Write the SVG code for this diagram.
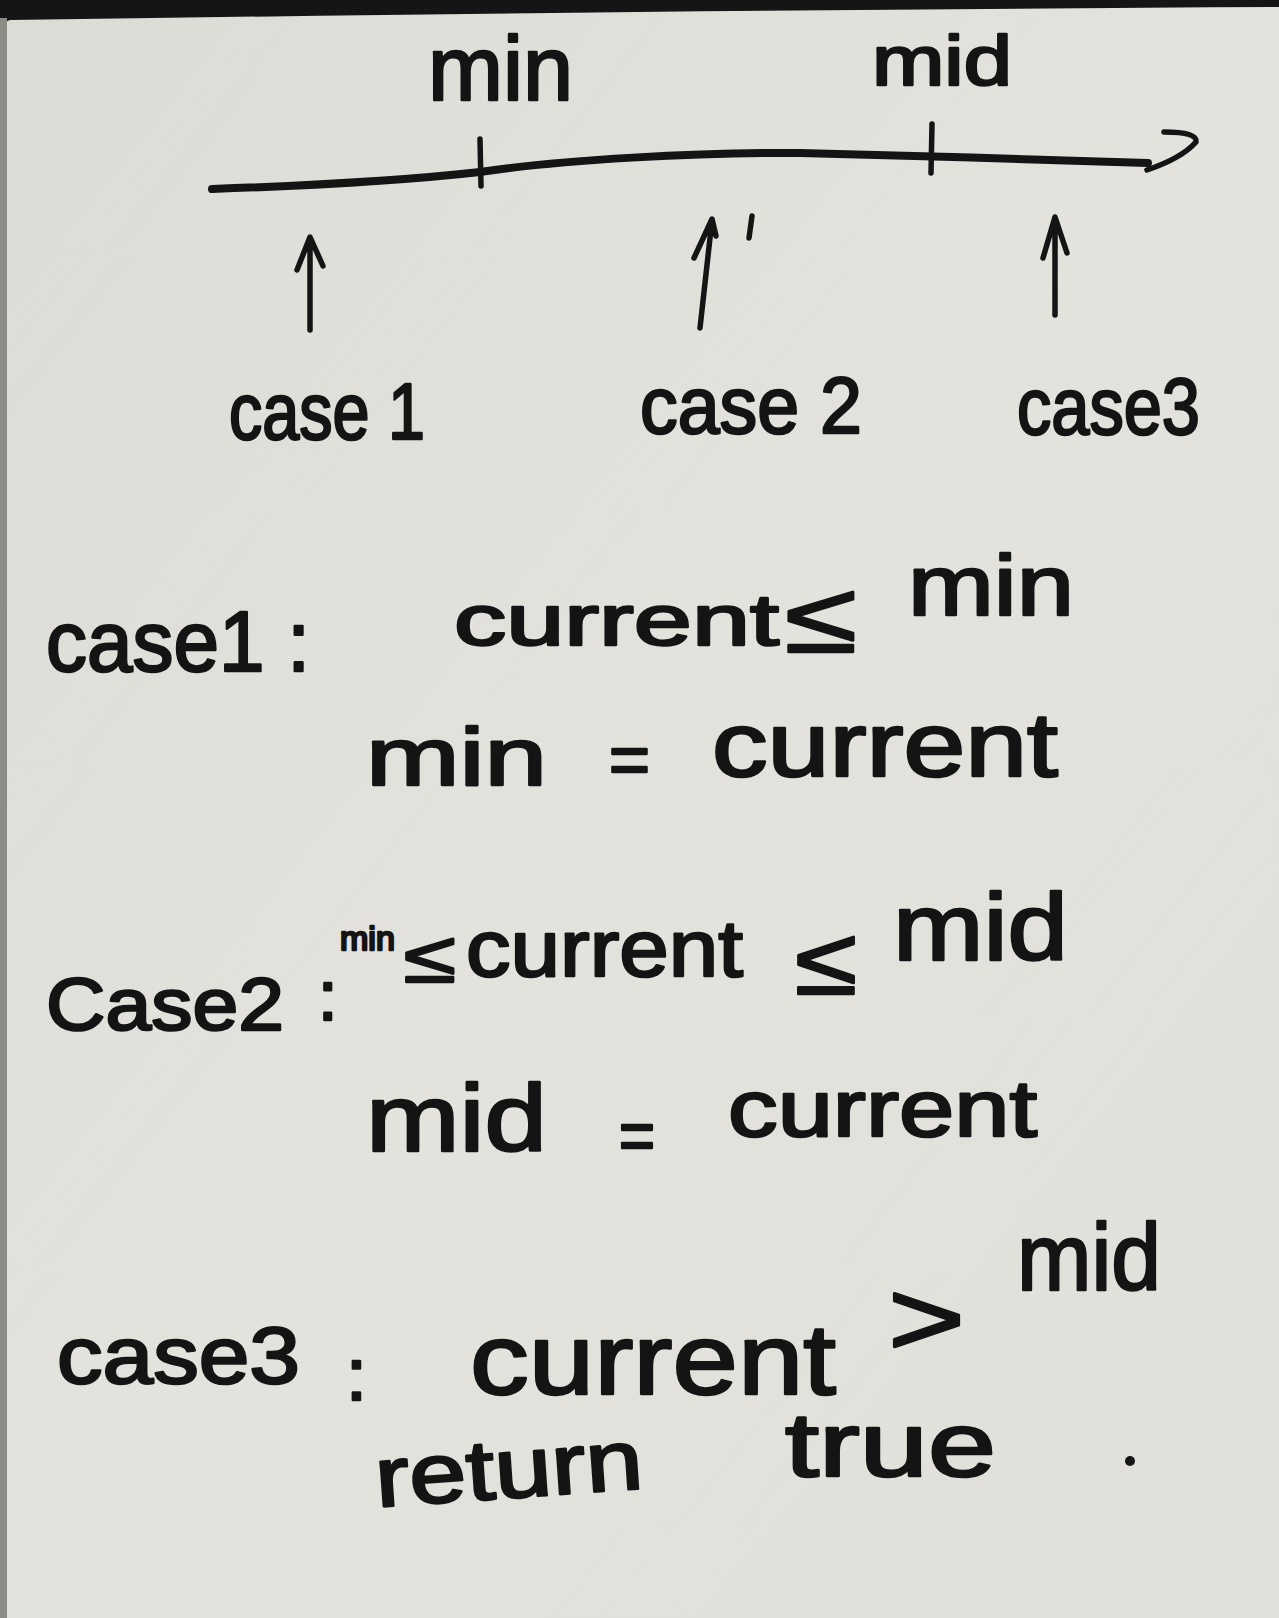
<svg xmlns="http://www.w3.org/2000/svg" width="1279" height="1618" viewBox="0 0 1279 1618">
<defs>
<linearGradient id="paper" x1="0" y1="0" x2="1" y2="1">
<stop offset="0" stop-color="#dddbd6"/>
<stop offset="0.5" stop-color="#e4e2dd"/>
<stop offset="1" stop-color="#e1dfda"/>
</linearGradient>
<style>
.h{font-family:"Liberation Sans","DejaVu Sans",sans-serif;fill:#141414;stroke:#141414;stroke-width:2.5;stroke-linejoin:round}
.ln{fill:none;stroke:#141414;stroke-width:8;stroke-linecap:round;stroke-linejoin:round}
.ar{fill:none;stroke:#141414;stroke-width:5.5;stroke-linecap:round;stroke-linejoin:round}
</style>
</defs>
<rect x="0" y="0" width="1279" height="1618" fill="url(#paper)"/>
<path d="M0,0 H1279 V7 Q700,10 10,20 L0,24 Z" fill="#151515"/>
<rect x="0" y="18" width="7" height="1600" fill="#8d8b86"/>

<g id="connectors">
<path class="ln" d="M212,189 C300,186 400,181 480,172 C560,160 700,152 800,153 C900,155 1050,160 1148,163"/>
<path class="ar" d="M1164,132 Q1198,132 1196,142 Q1182,158 1147,170"/>
<path class="ar" d="M480,139 L481,186"/>
<path class="ar" d="M932,124 L931,173"/>
<path class="ar" d="M310,330 L310,238 M297,270 L310,237 L323,266"/>
<path class="ar" d="M700,328 L712,220 M694,258 L712,219 L716,236 M752,216 L749,238"/>
<path class="ar" d="M1055,315 L1055,218 M1043,258 L1055,217 L1067,253"/>
</g>

<g id="axis-labels">
<text class="h" x="428" y="100" font-size="90" textLength="145" lengthAdjust="spacingAndGlyphs">min</text>
<text class="h" x="872" y="85" font-size="70" textLength="140" lengthAdjust="spacingAndGlyphs">mid</text>
</g>

<g id="case-labels">
<text class="h" x="229" y="439" font-size="80" textLength="196" lengthAdjust="spacingAndGlyphs">case 1</text>
<text class="h" x="640" y="433" font-size="80" textLength="222" lengthAdjust="spacingAndGlyphs">case 2</text>
<text class="h" x="1017" y="434" font-size="80" textLength="183" lengthAdjust="spacingAndGlyphs">case3</text>
</g>

<g id="case1">
<text class="h" x="46" y="671" font-size="85" textLength="264" lengthAdjust="spacingAndGlyphs">case1 :</text>
<text class="h" x="454" y="645" font-size="72" textLength="325" lengthAdjust="spacingAndGlyphs">current</text>
<text class="h" x="785" y="652" font-size="100" textLength="72" lengthAdjust="spacingAndGlyphs">≤</text>
<text class="h" x="908" y="615" font-size="85" textLength="166" lengthAdjust="spacingAndGlyphs">min</text>
<text class="h" x="366" y="785" font-size="82" textLength="181" lengthAdjust="spacingAndGlyphs">min</text>
<text class="h" x="609" y="784" font-size="70" textLength="41" lengthAdjust="spacingAndGlyphs">=</text>
<text class="h" x="712" y="776" font-size="90" textLength="346" lengthAdjust="spacingAndGlyphs">current</text>
</g>

<g id="case2">
<text class="h" x="46" y="1030" font-size="75" textLength="238" lengthAdjust="spacingAndGlyphs">Case2</text>
<text class="h" x="318" y="1020" font-size="70">:</text>
<text class="h" x="340" y="950" font-size="34" stroke-width="1.5">min</text>
<text class="h" x="404" y="982" font-size="72" textLength="52" lengthAdjust="spacingAndGlyphs">≤</text>
<text class="h" x="466" y="976" font-size="80" textLength="277" lengthAdjust="spacingAndGlyphs">current</text>
<text class="h" x="795" y="994" font-size="95" textLength="62" lengthAdjust="spacingAndGlyphs">≤</text>
<text class="h" x="893" y="960" font-size="95" textLength="175" lengthAdjust="spacingAndGlyphs">mid</text>
<text class="h" x="366" y="1151" font-size="95" textLength="181" lengthAdjust="spacingAndGlyphs">mid</text>
<text class="h" x="619" y="1160" font-size="70" textLength="36" lengthAdjust="spacingAndGlyphs">=</text>
<text class="h" x="728" y="1136" font-size="80" textLength="309" lengthAdjust="spacingAndGlyphs">current</text>
</g>

<g id="case3">
<text class="h" x="57" y="1383" font-size="80" textLength="243" lengthAdjust="spacingAndGlyphs">case3</text>
<text class="h" x="346" y="1400" font-size="75">:</text>
<text class="h" x="470" y="1394" font-size="100" textLength="366" lengthAdjust="spacingAndGlyphs">current</text>
<text class="h" x="888" y="1355" font-size="105" textLength="77" lengthAdjust="spacingAndGlyphs">&gt;</text>
<text class="h" x="1017" y="1290" font-size="95" textLength="144" lengthAdjust="spacingAndGlyphs">mid</text>
<text class="h" x="377" y="1507" font-size="85" textLength="268" lengthAdjust="spacingAndGlyphs" transform="rotate(-4 377 1507)">return</text>
<text class="h" x="785" y="1476" font-size="90" textLength="211" lengthAdjust="spacingAndGlyphs">true</text>
<circle cx="1130" cy="1461" r="5" fill="#141414"/>
</g>
</svg>
